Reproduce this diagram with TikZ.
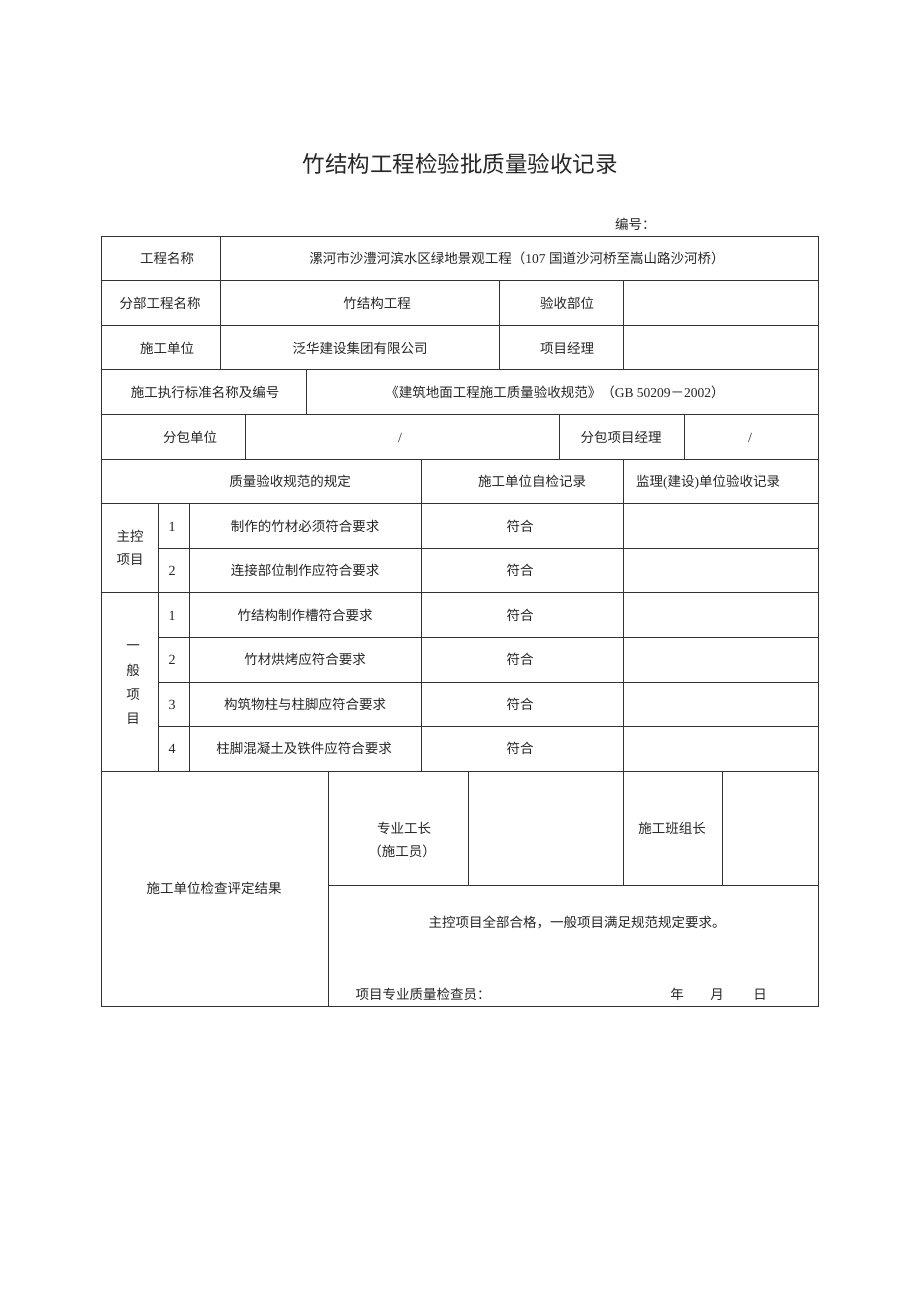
\documentclass[tikz,border=0pt]{standalone}
\usepackage{fontspec}
\setmainfont{Liberation Serif}
\newfontfamily\cjk{Noto Sans CJK SC}
\tikzset{
  grid/.style={draw=black!80, line width=0.9pt},
  txt/.style={inner sep=0pt, text height=10pt, text depth=2.5pt, yshift=-2pt, font=\cjk\fontsize{13.5}{16}\selectfont, text=black!85},
  num/.style={inner sep=0pt, text height=10pt, text depth=2.5pt, yshift=-2pt, font=\fontsize{14}{16}\selectfont, text=black!85},
  ttl/.style={inner sep=0pt, font=\cjk\fontsize{22.5}{26}\selectfont, text=black!85}
}
\begin{document}
\begin{tikzpicture}[x=1pt,y=-1pt]
\useasboundingbox[fill=white] (0,0) rectangle (920,1302);
% title
\node[ttl] (title) at (460,164) {竹结构工程检验批质量验收记录};
\node[txt, anchor=west] (bianhao) at (615,224) {编号：};
% outer frame
\draw[grid] (101,236) rectangle (818,1006);
% horizontal lines
\foreach \y in {280.6,325.2,369.8,414.4,459,503.6,592.8,771.2} \draw[grid] (101,\y) -- (818,\y);
\foreach \y in {548.2,637.4,682,726.6} \draw[grid] (158,\y) -- (818,\y);
\draw[grid] (328,885) -- (818,885);
% vertical lines
\draw[grid] (220,236) -- (220,369.8);
\draw[grid] (499,280.6) -- (499,369.8);
\draw[grid] (623,280.6) -- (623,369.8);
\draw[grid] (306,369.8) -- (306,414.4);
\draw[grid] (245,414.4) -- (245,459);
\draw[grid] (559,414.4) -- (559,459);
\draw[grid] (684,414.4) -- (684,459);
\draw[grid] (421,459) -- (421,771.2);
\draw[grid] (623,459) -- (623,771.2);
\draw[grid] (158,503.6) -- (158,771.2);
\draw[grid] (189,503.6) -- (189,771.2);
\draw[grid] (328,771.2) -- (328,1006);
\draw[grid] (468,771.2) -- (468,885);
\draw[grid] (623,771.2) -- (623,885);
\draw[grid] (722,771.2) -- (722,885);
% row 1
\node[txt] (gcmc) at (167,258) {工程名称};
\node[txt] (gcname) at (517,258) {漯河市沙澧河滨水区绿地景观工程（{\fontspec{Liberation Serif}107 }国道沙河桥至嵩山路沙河桥）};
% row 2
\node[txt] (fbgc) at (160,303) {分部工程名称};
\node[txt] (zjg) at (377,303) {竹结构工程};
\node[txt] (ysbw) at (567,303) {验收部位};
% row 3
\node[txt] (sgdw) at (167,348) {施工单位};
\node[txt] (fh) at (360,348) {泛华建设集团有限公司};
\node[txt] (xmjl) at (567,348) {项目经理};
% row 4
\node[txt] (bz) at (205,392) {施工执行标准名称及编号};
\node[txt] (bzname) at (555,392) {《建筑地面工程施工质量验收规范》（{\fontspec{Liberation Serif}GB 50209}－{\fontspec{Liberation Serif}2002}）};
% row 5
\node[txt] (fbdw) at (190,437) {分包单位};
\node[num] (sl1) at (400,437) {/};
\node[txt] (fbxm) at (621,437) {分包项目经理};
\node[num] (sl2) at (750,437) {/};
% row 6
\node[txt] (zlys) at (290,481) {质量验收规范的规定};
\node[txt] (zjjl) at (532,481) {施工单位自检记录};
\node[txt] (jljl) at (708,481) {监理{\fontspec{Liberation Serif}(}建设{\fontspec{Liberation Serif})}单位验收记录};
% main control
\node[txt] (zk1) at (130,536) {主控};
\node[txt] (zk2) at (130,559) {项目};
\node[num] (m1) at (172,526) {1};
\node[num] (m2) at (172,570) {2};
\node[txt] (mt1) at (305,526) {制作的竹材必须符合要求};
\node[txt] (mt2) at (305,570) {连接部位制作应符合要求};
\node[txt] (mr1) at (520,526) {符合};
\node[txt] (mr2) at (520,570) {符合};
% general
\node[txt] (yb1) at (133,645) {一};
\node[txt] (yb2) at (133,670) {般};
\node[txt] (yb3) at (133,694) {项};
\node[txt] (yb4) at (133,718) {目};
\node[num] (g1) at (172,615) {1};
\node[num] (g2) at (172,659) {2};
\node[num] (g3) at (172,704) {3};
\node[num] (g4) at (172,748) {4};
\node[txt] (gt1) at (305,615) {竹结构制作槽符合要求};
\node[txt] (gt2) at (305,659) {竹材烘烤应符合要求};
\node[txt] (gt3) at (305,704) {构筑物柱与柱脚应符合要求};
\node[txt] (gt4) at (304,748) {柱脚混凝土及铁件应符合要求};
\node[txt] (gr1) at (520,615) {符合};
\node[txt] (gr2) at (520,659) {符合};
\node[txt] (gr3) at (520,704) {符合};
\node[txt] (gr4) at (520,748) {符合};
% bottom
\node[txt] (zygz) at (404,828) {专业工长};
\node[txt] (sgy) at (402,851) {（施工员）};
\node[txt] (bzz) at (672,828) {施工班组长};
\node[txt] (pdjg) at (214,888) {施工单位检查评定结果};
\node[txt] (concl) at (577,922) {主控项目全部合格，一般项目满足规范规定要求。};
\node[txt] (jcy) at (423,994) {项目专业质量检查员：};
\node[txt] (nian) at (677,994) {年};
\node[txt] (yue) at (717,994) {月};
\node[txt] (ri) at (760,994) {日};
\end{tikzpicture}
\end{document}
